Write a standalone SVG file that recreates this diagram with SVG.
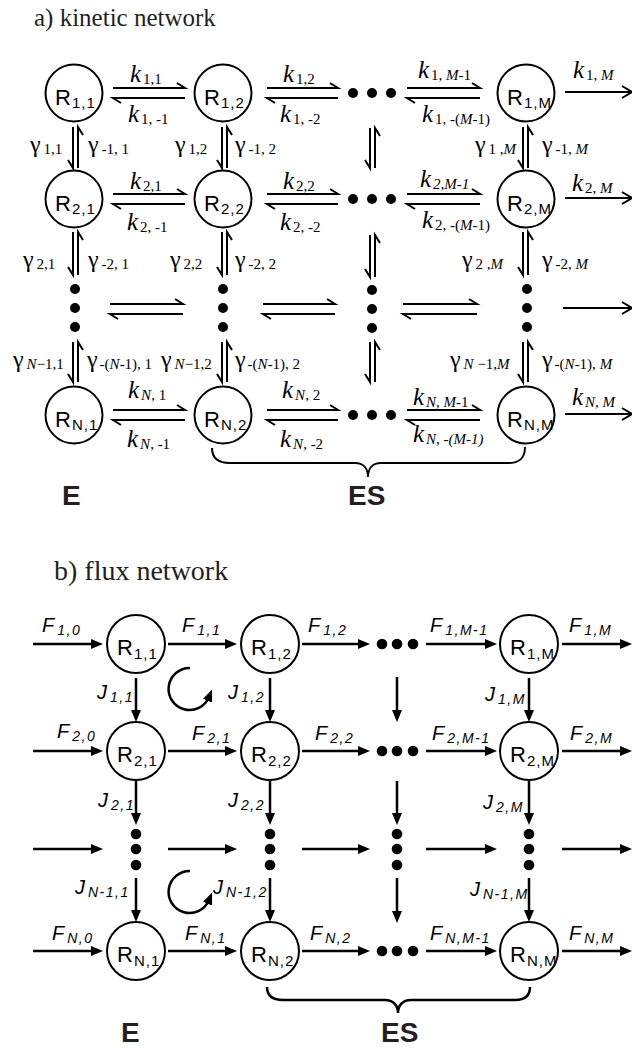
<svg xmlns="http://www.w3.org/2000/svg" width="632" height="1049" viewBox="0 0 632 1049">
<defs>
<style>
.ln{stroke:#000;stroke-width:2;fill:none}
.lb{stroke:#000;stroke-width:2.5;fill:none}
.c{fill:#fff;stroke:#000;stroke-width:2}
.dot{fill:#000}
.R{font-family:"Liberation Sans",Arial,sans-serif;font-size:22px;fill:#000}
.rs{font-size:15px;letter-spacing:1px}
.k{font-family:"Liberation Serif","Times New Roman",serif;font-style:italic;font-size:25px;fill:#000}
.ks{font-size:15px;font-style:normal}
.it{font-style:italic}
.g{font-family:"Liberation Serif","Times New Roman",serif;font-size:24px;fill:#000}
.gs{font-size:15px}
.F{font-family:"Liberation Sans",Arial,sans-serif;font-style:italic;font-size:20px;fill:#000}
.Fs{font-size:14px;letter-spacing:1.5px}
.EB{font-family:"Liberation Sans",Arial,sans-serif;font-weight:bold;font-size:28px;fill:#231f20}
.T{font-family:"Liberation Serif","Times New Roman",serif;font-size:25px;fill:#231f20}
.T2{font-family:"Liberation Serif","Times New Roman",serif;font-size:28px;fill:#231f20}
</style>
<marker id="ah" markerUnits="userSpaceOnUse" markerWidth="12" markerHeight="10" refX="4" refY="5" orient="auto"><path d="M0,0 L12,5 L0,10 z" fill="#000"/></marker>
</defs>
<rect width="632" height="1049" fill="#fff"/>

<text class="T" x="34" y="26">a) kinetic network</text>
<text class="T2" x="54" y="580">b) flux network</text>

<!-- ================= part a connectors ================= -->
<g id="connectors-a" class="ln">
<path d="M113,88 H185 l-8,-5 M185,98 H113 l8,5"/>
<path d="M267,88 H338 l-8,-5 M338,98 H267 l8,5"/>
<path d="M407,88 H480 l-8,-5 M480,98 H407 l8,5"/>
<path d="M565,92 H632 M622,86 L632,92 L622,98"/>
<path d="M113,194 H185 l-8,-5 M185,204 H113 l8,5"/>
<path d="M267,194 H338 l-8,-5 M338,204 H267 l8,5"/>
<path d="M407,194 H480 l-8,-5 M480,204 H407 l8,5"/>
<path d="M565,198 H632 M622,192 L632,198 L622,204"/>
<path d="M110,304 H183 l-8,-5 M183,314 H110 l8,5"/>
<path d="M263,304 H335 l-8,-5 M335,314 H263 l8,5"/>
<path d="M403,304 H477 l-8,-5 M477,314 H403 l8,5"/>
<path d="M563,308 H632 M622,302 L632,308 L622,314"/>
<path d="M113,410 H185 l-8,-5 M185,420 H113 l8,5"/>
<path d="M267,410 H338 l-8,-5 M338,420 H267 l8,5"/>
<path d="M407,410 H480 l-8,-5 M480,420 H407 l8,5"/>
<path d="M565,414 H632 M622,408 L632,414 L622,420"/>
<path d="M73,127 V168 l-5,-8 M78,168 V127 l5,8"/>
<path d="M222,127 V168 l-5,-8 M227,168 V127 l5,8"/>
<path d="M370,128 V168 l-5,-8 M375,168 V128 l5,8"/>
<path d="M523,127 V168 l-5,-8 M528,168 V127 l5,8"/>
<path d="M73,232 V275 l-5,-8 M78,275 V232 l5,8"/>
<path d="M222,232 V275 l-5,-8 M227,275 V232 l5,8"/>
<path d="M370,235 V277 l-5,-8 M375,277 V235 l5,8"/>
<path d="M523,232 V275 l-5,-8 M528,275 V232 l5,8"/>
<path d="M73,342 V382 l-5,-8 M78,382 V342 l5,8"/>
<path d="M222,342 V382 l-5,-8 M227,382 V342 l5,8"/>
<path d="M370,342 V382 l-5,-8 M375,382 V342 l5,8"/>
<path d="M523,342 V382 l-5,-8 M528,382 V342 l5,8"/>
<path d="M212,448 C212,458 218,463 230,463 H355 C363,463 368,468 368,477 C368,468 373,463 381,463 H508 C520,463 525,458 525,447"/>
</g>

<g id="a-R11"><circle class="c" cx="74" cy="93" r="28.5"/><text class="R" x="55" y="105">R<tspan class="rs" dx="1" dy="3">1,1</tspan></text></g>
<g id="a-R12"><circle class="c" cx="223" cy="93" r="28.5"/><text class="R" x="204" y="105">R<tspan class="rs" dx="1" dy="3">1,2</tspan></text></g>
<g id="a-R1M"><circle class="c" cx="526" cy="93" r="28.5"/><text class="R" x="507" y="105">R<tspan class="rs" dx="1" dy="3">1,M</tspan></text></g>
<g id="a-R21"><circle class="c" cx="74" cy="199" r="28.5"/><text class="R" x="55" y="211">R<tspan class="rs" dx="1" dy="3">2,1</tspan></text></g>
<g id="a-R22"><circle class="c" cx="223" cy="199" r="28.5"/><text class="R" x="204" y="211">R<tspan class="rs" dx="1" dy="3">2,2</tspan></text></g>
<g id="a-R2M"><circle class="c" cx="526" cy="199" r="28.5"/><text class="R" x="507" y="211">R<tspan class="rs" dx="1" dy="3">2,M</tspan></text></g>
<g id="a-RN1"><circle class="c" cx="74" cy="415" r="28.5"/><text class="R" x="55" y="427">R<tspan class="rs" dx="1" dy="3">N,1</tspan></text></g>
<g id="a-RN2"><circle class="c" cx="223" cy="415" r="28.5"/><text class="R" x="204" y="427">R<tspan class="rs" dx="1" dy="3">N,2</tspan></text></g>
<g id="a-RNM"><circle class="c" cx="526" cy="415" r="28.5"/><text class="R" x="507" y="427">R<tspan class="rs" dx="1" dy="3">N,M</tspan></text></g>

<g id="a-dots" class="dot">
<circle cx="353" cy="93" r="5"/><circle cx="372" cy="93" r="5"/><circle cx="391" cy="93" r="5"/>
<circle cx="353" cy="199" r="5"/><circle cx="372" cy="199" r="5"/><circle cx="391" cy="199" r="5"/>
<circle cx="353" cy="415" r="5"/><circle cx="372" cy="415" r="5"/><circle cx="391" cy="415" r="5"/>
<circle cx="75" cy="289" r="5"/><circle cx="75" cy="308" r="5"/><circle cx="75" cy="327" r="5"/>
<circle cx="223" cy="289" r="5"/><circle cx="223" cy="308" r="5"/><circle cx="223" cy="327" r="5"/>
<circle cx="372" cy="290" r="5"/><circle cx="372" cy="309" r="5"/><circle cx="372" cy="328" r="5"/>
<circle cx="527" cy="289" r="5"/><circle cx="527" cy="308" r="5"/><circle cx="527" cy="327" r="5"/>
</g>

<g id="a-labels">
<text class="k" x="130" y="82">k<tspan class="ks" dx="2" dy="2">1,1</tspan></text>
<text class="k" x="283" y="82">k<tspan class="ks" dx="2" dy="2">1,2</tspan></text>
<text class="k" x="418" y="78">k<tspan class="ks" dx="2" dy="2">1, <tspan class="it">M</tspan>-1</tspan></text>
<text class="k" x="573" y="78">k<tspan class="ks" dx="2" dy="2">1, <tspan class="it">M</tspan></tspan></text>
<text class="k" x="128" y="122">k<tspan class="ks" dx="2" dy="2">1, -1</tspan></text>
<text class="k" x="280" y="122">k<tspan class="ks" dx="2" dy="2">1, -2</tspan></text>
<text class="k" x="422" y="122">k<tspan class="ks" dx="2" dy="2">1, -(<tspan class="it">M</tspan>-1)</tspan></text>

<text class="g" x="30" y="152">γ<tspan class="gs" dx="3" dy="2">1,1</tspan></text>
<text class="g" x="88" y="152">γ<tspan class="gs" dx="3" dy="2">-1, 1</tspan></text>
<text class="g" x="175" y="152">γ<tspan class="gs" dx="3" dy="2">1,2</tspan></text>
<text class="g" x="235" y="152">γ<tspan class="gs" dx="3" dy="2">-1, 2</tspan></text>
<text class="g" x="475" y="152">γ<tspan class="gs" dx="3" dy="2">1 ,<tspan class="it">M</tspan></tspan></text>
<text class="g" x="542" y="152">γ<tspan class="gs" dx="3" dy="2">-1, <tspan class="it">M</tspan></tspan></text>

<text class="k" x="130" y="189">k<tspan class="ks" dx="2" dy="2">2,1</tspan></text>
<text class="k" x="283" y="189">k<tspan class="ks" dx="2" dy="2">2,2</tspan></text>
<text class="k" x="420" y="187">k<tspan class="ks it" dx="2" dy="2">2,M-1</tspan></text>
<text class="k" x="572" y="191">k<tspan class="ks" dx="2" dy="2">2, <tspan class="it">M</tspan></tspan></text>
<text class="k" x="127" y="230">k<tspan class="ks" dx="2" dy="2">2, -1</tspan></text>
<text class="k" x="280" y="230">k<tspan class="ks" dx="2" dy="2">2, -2</tspan></text>
<text class="k" x="422" y="228">k<tspan class="ks" dx="2" dy="2">2, -(<tspan class="it">M</tspan>-1)</tspan></text>

<text class="g" x="23" y="267">γ<tspan class="gs" dx="3" dy="2">2,1</tspan></text>
<text class="g" x="88" y="267">γ<tspan class="gs" dx="3" dy="2">-2, 1</tspan></text>
<text class="g" x="170" y="267">γ<tspan class="gs" dx="3" dy="2">2,2</tspan></text>
<text class="g" x="235" y="267">γ<tspan class="gs" dx="3" dy="2">-2, 2</tspan></text>
<text class="g" x="462" y="267">γ<tspan class="gs" dx="3" dy="2">2 ,<tspan class="it">M</tspan></tspan></text>
<text class="g" x="542" y="267">γ<tspan class="gs" dx="3" dy="2">-2, <tspan class="it">M</tspan></tspan></text>

<text class="g" x="13" y="367">γ<tspan class="gs" dx="3" dy="2"><tspan class="it">N</tspan>−1,1</tspan></text>
<text class="g" x="87" y="367">γ<tspan class="gs" dx="2" dy="2">-(<tspan class="it">N</tspan>-1), 1</tspan></text>
<text class="g" x="161" y="367">γ<tspan class="gs" dx="3" dy="2"><tspan class="it">N</tspan>−1,2</tspan></text>
<text class="g" x="235" y="367">γ<tspan class="gs" dx="2" dy="2">-(<tspan class="it">N</tspan>-1), 2</tspan></text>
<text class="g" x="450" y="367">γ<tspan class="gs" dx="3" dy="2"><tspan class="it">N</tspan> −1,<tspan class="it">M</tspan></tspan></text>
<text class="g" x="542" y="367">γ<tspan class="gs" dx="2" dy="2">-(<tspan class="it">N</tspan>-1), <tspan class="it">M</tspan></tspan></text>

<text class="k" x="128" y="398">k<tspan class="ks" dx="2" dy="2"><tspan class="it">N</tspan>, 1</tspan></text>
<text class="k" x="282" y="398">k<tspan class="ks" dx="2" dy="2"><tspan class="it">N</tspan>, 2</tspan></text>
<text class="k" x="413" y="405">k<tspan class="ks" dx="2" dy="2"><tspan class="it">N, M</tspan>-1</tspan></text>
<text class="k" x="572" y="405">k<tspan class="ks it" dx="2" dy="2">N, M</tspan></text>
<text class="k" x="127" y="447">k<tspan class="ks" dx="2" dy="2"><tspan class="it">N</tspan>, -1</tspan></text>
<text class="k" x="280" y="447">k<tspan class="ks" dx="2" dy="2"><tspan class="it">N</tspan>, -2</tspan></text>
<text class="k" x="413" y="442">k<tspan class="ks it" dx="2" dy="2">N, -(M-1)</tspan></text>

<text class="EB" x="62" y="505">E</text>
<text class="EB" x="348" y="505">ES</text>
</g>

<!-- ================= part b connectors ================= -->
<g id="connectors-b" class="lb" marker-end="url(#ah)">
<path d="M33,644 H95"/><path d="M168,644 H229"/><path d="M302,644 H362"/><path d="M426,644 H489"/><path d="M562,644 H624"/>
<path d="M33,751 H95"/><path d="M168,751 H229"/><path d="M302,751 H362"/><path d="M426,751 H489"/><path d="M562,751 H624"/>
<path d="M33,849 H95"/><path d="M168,849 H229"/><path d="M302,849 H362"/><path d="M426,849 H489"/><path d="M562,849 H624"/>
<path d="M33,951 H95"/><path d="M168,951 H229"/><path d="M302,951 H362"/><path d="M426,951 H489"/><path d="M562,951 H624"/>
<path d="M136,678 V714"/><path d="M270,678 V714"/><path d="M397,677 V714"/><path d="M529,678 V714"/>
<path d="M136,780 V817"/><path d="M270,780 V817"/><path d="M397,781 V817"/><path d="M529,780 V817"/>
<path d="M136,878 V914"/><path d="M270,878 V914"/><path d="M397,878 V915"/><path d="M529,878 V914"/>
<path d="M190,668 A21,21 0 1 0 209,697"/>
<path d="M190,871 A21,21 0 1 0 209,900"/>
</g>
<path class="lb" d="M267,987 C267,996 273,1000 283,1000 H385 C393,1000 398,1005 398,1013 C398,1005 403,1000 411,1000 H515 C525,1000 530,996 530,987"/>

<g id="b-R11"><circle class="c" cx="136" cy="644" r="29"/><text class="R" x="117" y="655">R<tspan class="rs" dx="1" dy="4">1,1</tspan></text></g>
<g id="b-R12"><circle class="c" cx="270" cy="644" r="29"/><text class="R" x="251" y="655">R<tspan class="rs" dx="1" dy="4">1,2</tspan></text></g>
<g id="b-R1M"><circle class="c" cx="529" cy="644" r="29"/><text class="R" x="510" y="655">R<tspan class="rs" dx="1" dy="4">1,M</tspan></text></g>
<g id="b-R21"><circle class="c" cx="136" cy="751" r="29"/><text class="R" x="117" y="762">R<tspan class="rs" dx="1" dy="4">2,1</tspan></text></g>
<g id="b-R22"><circle class="c" cx="270" cy="751" r="29"/><text class="R" x="251" y="762">R<tspan class="rs" dx="1" dy="4">2,2</tspan></text></g>
<g id="b-R2M"><circle class="c" cx="529" cy="751" r="29"/><text class="R" x="510" y="762">R<tspan class="rs" dx="1" dy="4">2,M</tspan></text></g>
<g id="b-RN1"><circle class="c" cx="136" cy="951" r="29"/><text class="R" x="117" y="962">R<tspan class="rs" dx="1" dy="4">N,1</tspan></text></g>
<g id="b-RN2"><circle class="c" cx="270" cy="951" r="29"/><text class="R" x="251" y="962">R<tspan class="rs" dx="1" dy="4">N,2</tspan></text></g>
<g id="b-RNM"><circle class="c" cx="529" cy="951" r="29"/><text class="R" x="510" y="962">R<tspan class="rs" dx="1" dy="4">N,M</tspan></text></g>

<g id="b-dots" class="dot">
<circle cx="382" cy="644" r="5.3"/><circle cx="397" cy="644" r="5.3"/><circle cx="413" cy="644" r="5.3"/>
<circle cx="382" cy="751" r="5.3"/><circle cx="397" cy="751" r="5.3"/><circle cx="413" cy="751" r="5.3"/>
<circle cx="382" cy="951" r="5.3"/><circle cx="397" cy="951" r="5.3"/><circle cx="413" cy="951" r="5.3"/>
<circle cx="136" cy="834" r="5.3"/><circle cx="136" cy="849" r="5.3"/><circle cx="136" cy="865" r="5.3"/>
<circle cx="270" cy="834" r="5.3"/><circle cx="270" cy="849" r="5.3"/><circle cx="270" cy="865" r="5.3"/>
<circle cx="397" cy="834" r="5.3"/><circle cx="397" cy="849" r="5.3"/><circle cx="397" cy="865" r="5.3"/>
<circle cx="529" cy="834" r="5.3"/><circle cx="529" cy="849" r="5.3"/><circle cx="529" cy="865" r="5.3"/>
</g>

<g id="b-labels">
<text class="F" x="42" y="632">F<tspan class="Fs" dx="3" dy="3">1,0</tspan></text>
<text class="F" x="182" y="632">F<tspan class="Fs" dx="3" dy="3">1,1</tspan></text>
<text class="F" x="308" y="632">F<tspan class="Fs" dx="3" dy="3">1,2</tspan></text>
<text class="F" x="430" y="632">F<tspan class="Fs" dx="3" dy="3">1,M-1</tspan></text>
<text class="F" x="569" y="632">F<tspan class="Fs" dx="3" dy="3">1,M</tspan></text>
<text class="F" x="57" y="738">F<tspan class="Fs" dx="3" dy="3">2,0</tspan></text>
<text class="F" x="192" y="740">F<tspan class="Fs" dx="3" dy="3">2,1</tspan></text>
<text class="F" x="315" y="740">F<tspan class="Fs" dx="3" dy="3">2,2</tspan></text>
<text class="F" x="432" y="740">F<tspan class="Fs" dx="3" dy="3">2,M-1</tspan></text>
<text class="F" x="570" y="740">F<tspan class="Fs" dx="3" dy="3">2,M</tspan></text>
<text class="F" x="52" y="940">F<tspan class="Fs" dx="3" dy="3">N,0</tspan></text>
<text class="F" x="185" y="940">F<tspan class="Fs" dx="3" dy="3">N,1</tspan></text>
<text class="F" x="310" y="940">F<tspan class="Fs" dx="3" dy="3">N,2</tspan></text>
<text class="F" x="430" y="940">F<tspan class="Fs" dx="3" dy="3">N,M-1</tspan></text>
<text class="F" x="569" y="940">F<tspan class="Fs" dx="3" dy="3">N,M</tspan></text>

<text class="F" x="97" y="699">J<tspan class="Fs" dx="3" dy="3">1,1</tspan></text>
<text class="F" x="228" y="699">J<tspan class="Fs" dx="3" dy="3">1,2</tspan></text>
<text class="F" x="485" y="701">J<tspan class="Fs" dx="3" dy="3">1,M</tspan></text>
<text class="F" x="98" y="807">J<tspan class="Fs" dx="3" dy="3">2,1</tspan></text>
<text class="F" x="228" y="807">J<tspan class="Fs" dx="3" dy="3">2,2</tspan></text>
<text class="F" x="483" y="809">J<tspan class="Fs" dx="3" dy="3">2,M</tspan></text>
<text class="F" x="75" y="894">J<tspan class="Fs" dx="3" dy="3">N-1,1</tspan></text>
<text class="F" x="213" y="894">J<tspan class="Fs" dx="3" dy="3">N-1,2</tspan></text>
<text class="F" x="470" y="896">J<tspan class="Fs" dx="3" dy="3">N-1,M</tspan></text>

<text class="EB" x="121" y="1042">E</text>
<text class="EB" x="381" y="1042">ES</text>
</g>
</svg>
